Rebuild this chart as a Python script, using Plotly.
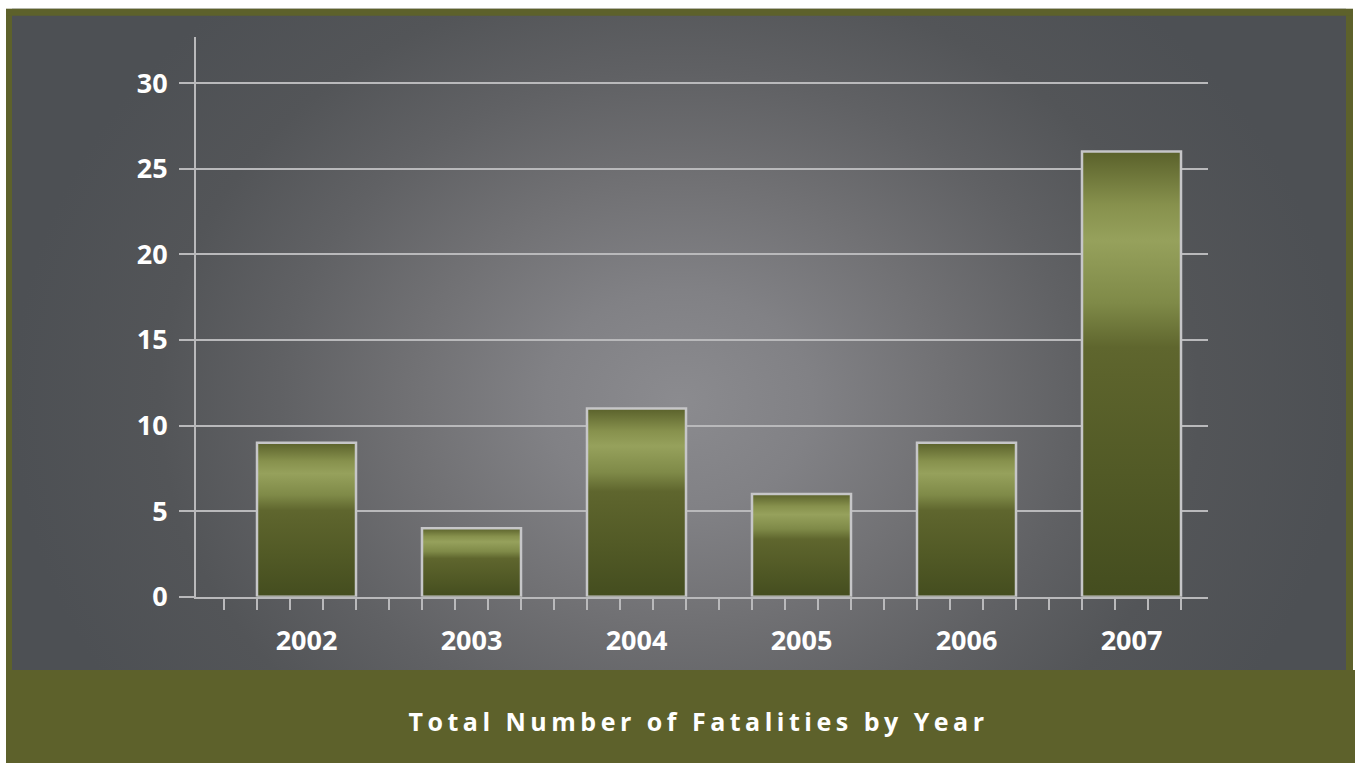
import plotly.graph_objects as go

# ---- data ----
years = ["2002", "2003", "2004", "2005", "2006", "2007"]
fatalities = [9, 4, 11, 6, 9, 26]
y_ticks = [0, 5, 10, 15, 20, 25, 30]
title_text = "Total Number of Fatalities by Year"

W, H = 1355, 780
GRID = "#b9b9bb"
OLIVE = "#5d612b"

bar_scale = [
    [0.00, "#444d1f"],
    [0.28, "#525a26"],
    [0.50, "#5c632c"],
    [0.56, "#5f662e"],
    [0.66, "#7f8a48"],
    [0.80, "#96a15c"],
    [0.88, "#87914d"],
    [1.00, "#5a612b"],
]

bg_scale = [
    [0.00, "#8b8b8f"],
    [0.20, "#818185"],
    [0.40, "#717174"],
    [0.60, "#606164"],
    [0.78, "#535558"],
    [1.00, "#4d5054"],
]

fig = go.Figure()

# background panel (radial grey gradient) on a full-page helper axis;
# the gradient box extends past the panel, the overflow is covered by the frame
fig.add_trace(go.Scatter(
    x=[12, 1346, 1346, 12, 12], y=[-150, -150, 970, 970, -150],
    xaxis="x", yaxis="y", mode="lines", line=dict(width=0),
    fill="toself", fillgradient=dict(type="radial", colorscale=bg_scale),
    hoverinfo="skip", showlegend=False,
))

half = 0.3
for i, (yr, v) in enumerate(zip(years, fatalities)):
    fig.add_trace(go.Scatter(
        x=[i - half, i - half, i + half, i + half, i - half],
        y=[0, v, v, 0, 0],
        xaxis="x2", yaxis="y2", mode="lines",
        line=dict(color="#c6c6c8", width=2.5),
        fill="toself",
        fillgradient=dict(type="vertical", colorscale=bar_scale),
        name=yr, showlegend=False, hoverinfo="x+y",
    ))

x_left_px, x_right_px = 196, 1208
y_top_px, y_bot_px = 38, 610
px_per_cat = 165.0
center0 = 306.5
xr0 = (x_left_px - center0) / px_per_cat
xr1 = (x_right_px - center0) / px_per_cat
px_per_unit = (610 - 85) / 30.0
yr1 = (y_bot_px - y_top_px) / px_per_unit

tick_font = dict(family="Open Sans", size=27, color="white", weight="bold")

fig.update_layout(
    width=W, height=H,
    margin=dict(l=0, r=0, t=0, b=0),
    paper_bgcolor="white",
    plot_bgcolor="rgba(0,0,0,0)",
    showlegend=False,
    xaxis=dict(domain=[0, 1], range=[0, W], visible=False, fixedrange=True),
    yaxis=dict(domain=[0, 1], range=[H, 0], visible=False, fixedrange=True),
    xaxis2=dict(
        domain=[x_left_px / W, x_right_px / W], anchor="y2",
        range=[xr0, xr1],
        tickmode="array", tickvals=list(range(len(years))), ticktext=years,
        ticks="", showgrid=False, zeroline=False,
        showline=True, linecolor=GRID, linewidth=2,
        tickfont=tick_font,
        ticklabelstandoff=19,
        minor=dict(tick0=0.1, dtick=0.2, ticks="outside", ticklen=11,
                   tickwidth=2, tickcolor=GRID, showgrid=False),
    ),
    yaxis2=dict(
        domain=[(H - y_bot_px) / H, (H - y_top_px) / H], anchor="x2",
        range=[0, yr1],
        tickmode="array", tickvals=y_ticks,
        ticks="outside", ticklen=15, tickwidth=2, tickcolor=GRID,
        showgrid=True, gridcolor=GRID, gridwidth=2, zeroline=False,
        showline=True, linecolor=GRID, linewidth=2,
        tickfont=tick_font,
        ticklabelstandoff=6,
    ),
    shapes=[
        # olive frame (behind the panel)
        dict(type="rect", xref="paper", yref="paper", layer="below",
             x0=6 / W, x1=1353 / W, y0=0, y1=(H - 9) / H,
             fillcolor=OLIVE, line=dict(width=0)),
        # covers for the gradient overflow
        dict(type="rect", xref="paper", yref="paper", layer="above",
             x0=0, x1=1, y0=(H - 9) / H, y1=1,
             fillcolor="white", line=dict(width=0)),
        dict(type="rect", xref="paper", yref="paper", layer="above",
             x0=6 / W, x1=1353 / W, y0=(H - 16) / H, y1=(H - 9) / H,
             fillcolor=OLIVE, line=dict(width=0)),
        # bottom title banner
        dict(type="rect", xref="paper", yref="paper", layer="above",
             x0=6 / W, x1=1, y0=0, y1=(H - 685) / H,
             fillcolor=OLIVE, line=dict(width=0)),
    ],
    annotations=[
        dict(text=f"<b>{title_text}</b>", xref="paper", yref="paper",
             x=(678 + 20) / W, y=(H - 737) / H, xanchor="center", yanchor="middle",
             showarrow=False,
             font=dict(family="Open Sans", size=25, color="white")),
    ],
)

post = (
    "document.querySelectorAll('.annotation-text').forEach(function(t){"
    "t.style.letterSpacing='4.5px';});"
)
fig.write_html("out.html", post_script=post)
